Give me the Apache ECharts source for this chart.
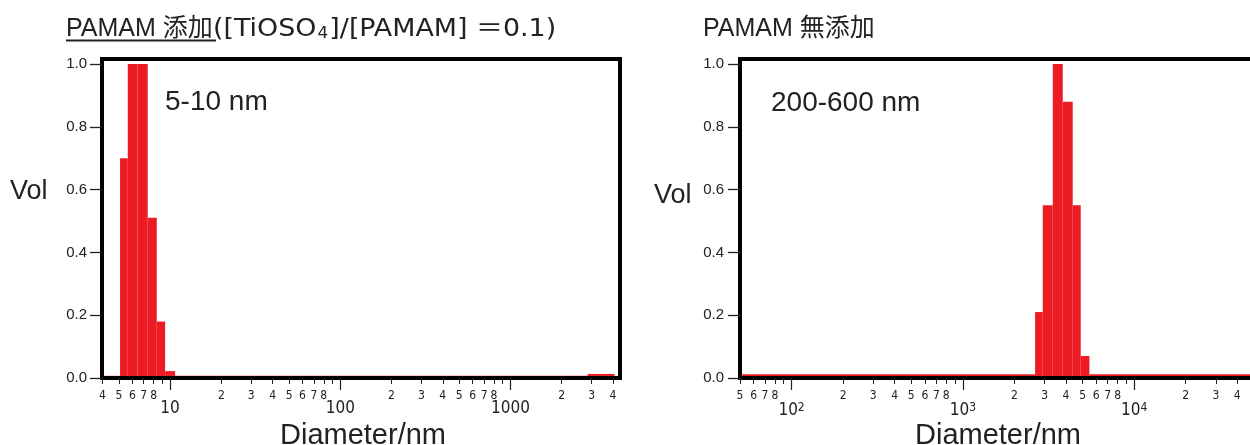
<!DOCTYPE html>
<html><head><meta charset="utf-8">
<script src="https://cdn.jsdelivr.net/npm/echarts@6/dist/echarts.min.js"></script>
<style>html,body{margin:0;padding:0;background:#fff}#c{width:1250px;height:445px}</style>
</head><body><div id="c"></div>
<script>
// ---- data (volume distributions, bins in nm) ----
const leftBinStart  = [4.0, 5.08, 5.64, 6.44, 7.39, 8.35, 9.35, 10.7, 2840];
const leftBinEnd    = [5.08, 5.64, 6.44, 7.39, 8.35, 9.35, 10.7, 2840, 4090];
const leftVol       = [0.007, 0.70, 1.00, 1.00, 0.51, 0.18, 0.022, 0.007, 0.013];

const rightBinStart = [50, 2640, 2927, 3348, 3828, 4378, 4875, 5479];
const rightBinEnd   = [2640, 2927, 3348, 3828, 4378, 4875, 5479, 55000];
const rightVol      = [0.012, 0.21, 0.55, 1.00, 0.88, 0.55, 0.07, 0.012];

const yTicks = [0, 0.2, 0.4, 0.6, 0.8, 1.0];
const leftMajorTicks = [10, 100, 1000];
const leftMinorTicks = [4,5,6,7,8,9,20,30,40,50,60,70,80,90,200,300,400,500,600,700,800,900,2000,3000,4000];
const leftMinorLabels = [4,5,6,7,8,20,30,40,50,60,70,80,200,300,400,500,600,700,800,2000,3000,4000];
const rightMajorTicks = [100, 1000, 10000];
const rightMinorTicks = [50,60,70,80,90,200,300,400,500,600,700,800,900,2000,3000,4000,5000,6000,7000,8000,9000,20000,30000,40000,50000];
const rightMinorLabels = [50,60,70,80,200,300,400,500,600,700,800,2000,3000,4000,5000,6000,7000,8000,20000,30000,40000,50000];

const titleLeftA = 'PAMAM 添加';
const titleLeftB = '([TiOSO{sub|4}]/[PAMAM] ＝0.1)';
const titleRight = 'PAMAM 無添加';
const noteLeft = '5-10 nm';
const noteRight = '200-600 nm';
const xName = 'Diameter/nm';
const yName = 'Vol';

// ---- build ----
const RED = '#ed1c24', INK = '#222';
const NARROW = '"Liberation Sans Narrow", "DejaVu Sans Condensed", "Liberation Sans", sans-serif';
const SANS = '"Liberation Sans", "Noto Sans CJK JP", sans-serif';
const WIDE = '"DejaVu Sans", "Noto Sans CJK JP", sans-serif';

function leadDigit(v) {
  const p = Math.pow(10, Math.floor(Math.log10(v) + 1e-9));
  return String(Math.round(v / p));
}
function renderBin(params, api) {
  const p0 = api.coord([api.value(0), api.value(2)]);
  const p1 = api.coord([api.value(1), 0]);
  return { type: 'rect', shape: { x: p0[0], y: p0[1], width: p1[0] - p0[0], height: p1[1] - p0[1] },
           style: { fill: RED } };
}
function minorAxis(grid, min, max, ticks, labels) {
  return { type: 'log', gridIndex: grid, min: min, max: max, position: 'bottom', z: 3,
    axisLine: { show: false }, splitLine: { show: false }, minorTick: { show: false },
    axisTick: { show: true, customValues: ticks, length: 6, lineStyle: { color: INK, width: 1 } },
    axisLabel: { customValues: labels, formatter: leadDigit, margin: 12, fontSize: 12, color: INK, fontFamily: NARROW } };
}
function majorAxis(grid, min, max, ticks, fmt, rich, margin) {
  return { type: 'log', gridIndex: grid, min: min, max: max, position: 'bottom', z: 3,
    axisLine: { show: true, onZero: false, lineStyle: { color: '#000', width: 4 } },
    splitLine: { show: false }, minorTick: { show: false },
    axisTick: { show: true, customValues: ticks, length: 12, lineStyle: { color: INK, width: 1.2 } },
    axisLabel: { customValues: ticks, formatter: fmt, margin: margin, fontSize: 17, color: INK, fontFamily: NARROW, rich: rich } };
}
function yAxis(grid, margin) {
  return { type: 'value', gridIndex: grid, min: 0, max: 1.016, z: 3,
    axisLine: { show: true, lineStyle: { color: '#000', width: 4 } }, splitLine: { show: false },
    axisTick: { show: true, customValues: yTicks, length: 12, lineStyle: { color: INK, width: 1.3 } },
    axisLabel: { customValues: yTicks, formatter: v => v.toFixed(1), margin: margin, fontSize: 15, color: INK, fontFamily: SANS } };
}
function txt(x, y, text, size, align, family, extra) {
  const el = { type: 'text', x: x, y: y, z: 10,
    style: { text: text, fontSize: size, fontFamily: family || SANS, fill: INK, align: align || 'left', verticalAlign: 'top',
             textAlign: align || 'left', textVerticalAlign: 'top' } };
  if (extra) Object.assign(el.style, extra.style || {}), Object.assign(el, extra.el || {});
  return el;
}

const chart = echarts.init(document.getElementById('c'), null, { renderer: 'canvas' });
chart.setOption({
  animation: false,
  backgroundColor: '#fff',
  grid: [
    { left: 102, right: 630, top: 59, bottom: 67, show: true, borderColor: '#000', borderWidth: 4, backgroundColor: 'transparent', outerBoundsMode: 'none', containLabel: false },
    { left: 740, right: -11, top: 59, bottom: 67, show: true, borderColor: '#000', borderWidth: 4, backgroundColor: 'transparent', outerBoundsMode: 'none', containLabel: false }
  ],
  xAxis: [
    minorAxis(0, 3.98, 4400, leftMinorTicks, leftMinorLabels),
    majorAxis(0, 3.98, 4400, leftMajorTicks, v => String(v), null, 22),
    minorAxis(1, 50, 55000, rightMinorTicks, rightMinorLabels),
    majorAxis(1, 50, 55000, rightMajorTicks, v => '10{s|' + Math.round(Math.log10(v)) + '}',
      { s: { fontSize: 12, fontFamily: NARROW, color: INK, verticalAlign: 'top', lineHeight: 12 } }, 24)
  ],
  yAxis: [ yAxis(0, 15), yAxis(1, 16) ],
  series: [
    { type: 'custom', xAxisIndex: 1, yAxisIndex: 0, renderItem: renderBin, encode: { x: [0, 1], y: 2 },
      data: leftBinStart.map((s, i) => [s, leftBinEnd[i], leftVol[i]]) },
    { type: 'custom', xAxisIndex: 3, yAxisIndex: 1, renderItem: renderBin, encode: { x: [0, 1], y: 2 },
      data: rightBinStart.map((s, i) => [s, rightBinEnd[i], rightVol[i]]) }
  ],
  graphic: [
    txt(66, 17, titleLeftA, 25),
    txt(213, 18, titleLeftB, 24, 'left', WIDE, {
      el: { scaleX: 1.12 },
      style: { rich: { sub: { fontSize: 15, fontFamily: WIDE, fill: INK, verticalAlign: 'bottom', lineHeight: 15, padding: [12, 1, 0, 1] } } } }),
    { type: 'line', z: 10, shape: { x1: 66, y1: 40.5, x2: 216, y2: 40.5 }, style: { stroke: INK, lineWidth: 2 } },
    txt(703, 17, titleRight, 25),
    txt(165, 88, noteLeft, 28),
    txt(771, 89, noteRight, 28),
    txt(10, 178, yName, 27),
    txt(654, 182, yName, 27),
    txt(363, 421, xName, 29, 'center'),
    txt(998, 421, xName, 29, 'center')
  ]
});
</script></body></html>
